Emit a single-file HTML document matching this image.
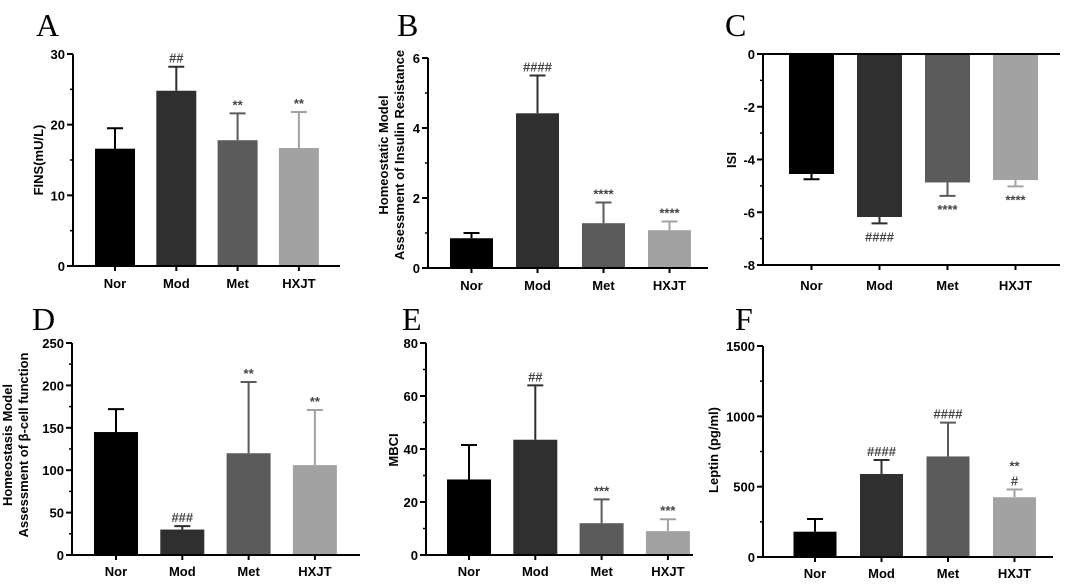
<!DOCTYPE html>
<html><head><meta charset="utf-8"><style>
html,body{margin:0;padding:0;background:#fff;}
svg{display:block;font-family:"Liberation Sans",Arial,sans-serif;}
</style></head><body>
<svg id="fig" width="1065" height="585" viewBox="0 0 1065 585" xmlns="http://www.w3.org/2000/svg"></svg>
<script>
const categories = ["Nor","Mod","Met","HXJT"];
const colors = ["#000000","#2f2f2f","#5b5b5b","#a2a2a2"];
const valuesA = [16.6, 24.8, 17.8, 16.7];
const errA = [19.5, 28.2, 21.6, 21.8];
const marksA = ["", "##", "**", "**"];
const ticksA = [0, 10, 20, 30];
const valuesB = [0.85, 4.42, 1.28, 1.08];
const errB = [1.0, 5.5, 1.87, 1.33];
const marksB = ["", "####", "****", "****"];
const ticksB = [0, 2, 4, 6];
const valuesC = [-4.55, -6.18, -4.87, -4.78];
const errC = [-4.75, -6.42, -5.38, -5.02];
const marksC = ["", "####", "****", "****"];
const ticksC = [0, -2, -4, -6, -8];
const valuesD = [145, 30, 120, 106];
const errD = [172, 34, 204, 171];
const marksD = ["", "###", "**", "**"];
const ticksD = [0, 50, 100, 150, 200, 250];
const valuesE = [28.5, 43.5, 12, 9];
const errE = [41.5, 64, 21, 13.5];
const marksE = ["", "##", "***", "***"];
const ticksE = [0, 20, 40, 60, 80];
const valuesF = [180, 590, 715, 425];
const errF = [270, 690, 955, 480];
const marksF = ["", "####", "####", "**\n#"];
const ticksF = [0, 500, 1000, 1500];

const NS = "http://www.w3.org/2000/svg";
const svg = document.getElementById("fig");
function mk(tag, attrs, parent, text){
  const e = document.createElementNS(NS, tag);
  for (const k in attrs) e.setAttribute(k, attrs[k]);
  if (text !== undefined) e.textContent = text;
  (parent || svg).appendChild(e);
  return e;
}

function panel(p){
  const g = mk("g", {});
  
  
  const y = v => p.y0 + (v - p.vmin) / (p.vmax - p.vmin) * (p.y1 - p.y0);
  const lbl = mk("text", {x:p.lx, y:p.ly, "font-family":"Liberation Serif,serif", "font-size":32}, g, p.letter);
  
  
  const ya = mk("line", {x1:p.ax, x2:p.ax, y1:y(p.vmin), y2:y(p.vmax), stroke:"#000", "stroke-width":2}, g);
  
  
  const step = (p.ticks[1] - p.ticks[0]) / 2;
  const lo = Math.min(p.vmin, p.vmax), hi = Math.max(p.vmin, p.vmax);
  for (let v = lo; v <= hi + 1e-9; v += Math.abs(step)) {
    mk("line", {x1:p.ax-3, x2:p.ax, y1:y(v), y2:y(v), stroke:"#000", "stroke-width":1.5}, g);
  }
  p.ticks.forEach(t => {
    mk("line", {x1:p.ax-6, x2:p.ax, y1:y(t), y2:y(t), stroke:"#000", "stroke-width":2}, g);
    const tl = mk("text", {x:p.ax-8, y:y(t)+5, "text-anchor":"end", "font-size":13, "font-weight":"bold"}, g, String(t));
    
    
  });
  p.title.forEach((line, i) => {
    const tx = p.tx + i * 16;
    const tt = mk("text", {x:tx, y:p.ty, transform:`rotate(-90 ${tx} ${p.ty})`, "text-anchor":"middle", "font-size":13, "font-weight":"bold"}, g, line);
    
    
  });
  const base = y(0);
  const tickY = p.tickY !== undefined ? p.tickY : p.xAxisY;
  categories.forEach((c, i) => {
    const cx = p.bx0 + i * p.bstep;
    const yv = y(p.values[i]), ye = y(p.err[i]);
    const b = mk("rect", {x:cx - p.bw/2, y:Math.min(yv, base), width:p.bw, height:Math.abs(base - yv), fill:colors[i]}, g);
    
    
    const eb = mk("path", {d:`M${cx},${yv}V${ye}M${cx-8},${ye}H${cx+8}`, stroke:colors[i], "stroke-width":2, fill:"none"}, g);
    
    
    const m = p.marks[i];
    if (m) {
      const lines = m.split("\n");
      const neg = p.err[i] < 0;
      lines.forEach((ln, k) => {
        const yy = neg ? ye + 18 + k*15 : ye - 4 - (lines.length - 1 - k) * 15;
        const st = mk("text", {x:cx, y:yy, "text-anchor":"middle", "font-size":13, "font-weight":"bold", fill:"#444"}, g, ln);
        
        
      });
    }
    mk("line", {x1:cx, x2:cx, y1:tickY, y2:tickY+5, stroke:"#000", "stroke-width":2}, g);
    const xl = mk("text", {x:cx, y:p.xly, "text-anchor":"middle", "font-size":13, "font-weight":"bold"}, g, c);
    
    
  });
  const xa = mk("line", {x1:p.ax, x2:p.axEnd, y1:p.xAxisY, y2:p.xAxisY, stroke:"#000", "stroke-width":2}, g);
  
  
  if (p.tickY !== undefined) {
    const xb = mk("line", {x1:p.ax, x2:p.axEnd, y1:p.tickY, y2:p.tickY, stroke:"#000", "stroke-width":2}, g);
    
    
  }
}

panel({letter:"A", lx:36, ly:36, ax:73, axEnd:340, vmin:0, vmax:30, y0:266, y1:54, ticks:ticksA,
  values:valuesA, err:errA, marks:marksA, bx0:115, bstep:61.3, bw:40, xAxisY:266, xly:288,
  title:["FINS(mU/L)"], tx:43, ty:160});
panel({letter:"B", lx:397, ly:36, ax:428, axEnd:708, vmin:0, vmax:6, y0:268, y1:58, ticks:ticksB,
  values:valuesB, err:errB, marks:marksB, bx0:471.5, bstep:66, bw:43, xAxisY:268, xly:290,
  title:["Homeostatic Model","Assessment of Insulin Resistance"], tx:388, ty:155});
panel({letter:"C", lx:725, ly:36, ax:763, axEnd:1060, vmin:-8, vmax:0, y0:265, y1:54, ticks:ticksC,
  values:valuesC, err:errC, marks:marksC, bx0:811.5, bstep:68, bw:45, xAxisY:54, tickY:265, xly:290,
  title:["ISI"], tx:736, ty:160});
panel({letter:"D", lx:32, ly:330, ax:72, axEnd:360, vmin:0, vmax:250, y0:555, y1:343, ticks:ticksD,
  values:valuesD, err:errD, marks:marksD, bx0:116, bstep:66.3, bw:44, xAxisY:555, xly:576,
  title:["Homeostasis Model","Assessment of β-cell function"], tx:12, ty:445});
panel({letter:"E", lx:402, ly:330, ax:426, axEnd:693, vmin:0, vmax:80, y0:555, y1:343, ticks:ticksE,
  values:valuesE, err:errE, marks:marksE, bx0:469, bstep:66.3, bw:44, xAxisY:555, xly:576,
  title:["MBCI"], tx:398, ty:450});
panel({letter:"F", lx:735, ly:330, ax:763, axEnd:1053, vmin:0, vmax:1500, y0:557, y1:346, ticks:ticksF,
  values:valuesF, err:errF, marks:marksF, bx0:815, bstep:66.5, bw:43, xAxisY:557, xly:578,
  title:["Leptin (pg/ml)"], tx:718, ty:450});
</script>
</body></html>
